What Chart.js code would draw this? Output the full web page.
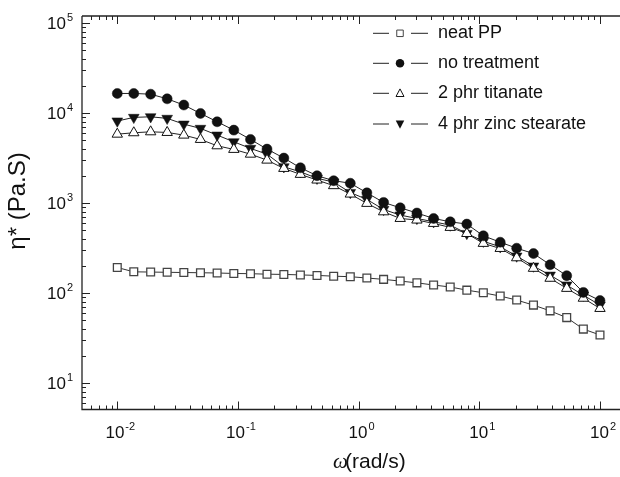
<!DOCTYPE html>
<html>
<head>
<meta charset="utf-8">
<script src="https://cdn.jsdelivr.net/npm/chart.js@4"></script>
<style>
  html, body { margin: 0; padding: 0; background: #fff; }
  #wrap { width: 620px; height: 477px; }
</style>
</head>
<body>
<div id="wrap"><canvas id="viscChart" width="620" height="477"></canvas></div>
<script>
// angular frequency (rad/s)
const omega = [0.01, 0.0137, 0.0189, 0.0259, 0.0356, 0.0489, 0.0672, 0.0924, 0.127, 0.174,
               0.240, 0.329, 0.452, 0.621, 0.853, 1.17, 1.61, 2.21, 3.04, 4.18,
               5.74, 7.88, 10.8, 14.9, 20.4, 28.1, 38.6, 53.0, 72.8, 100];

// complex viscosity (Pa.s)
const neatPP = [191, 171, 170, 169, 168, 167, 166, 164, 163, 161,
                160, 158, 156, 153, 151, 146, 141, 135, 129, 122,
                116, 107, 100, 92, 83, 73, 63, 53, 39.5, 34];
const noTreatment = [16400, 16400, 16100, 14300, 12200, 9840, 7950, 6420, 5060, 3950,
                     3140, 2450, 2000, 1760, 1650, 1290, 1010, 880, 770, 670,
                     615, 580, 430, 365, 313, 273, 205, 155, 101, 82];
const titanate = [5790, 6000, 6150, 6050, 5650, 5060, 4300, 3920, 3470, 2980,
                  2410, 2070, 1790, 1550, 1250, 985, 794, 670, 643, 590,
                  533, 456, 354, 311, 245, 187, 145, 112, 87, 67];
const zincStearate = [8100, 8890, 9030, 8670, 7480, 6710, 5650, 4760, 4020, 3470,
                      2510, 2210, 1870, 1700, 1300, 1090, 843, 730, 670, 615,
                      565, 456, 374, 324, 256, 198, 157, 122, 94, 73];

const seriesLabels = ['neat PP', 'no treatment', '2 phr titanate', '4 phr zinc stearate'];
const xTickValues = [0.01, 0.1, 1, 10, 100];
const xTickExp = ['-2', '-1', '0', '1', '2'];
const yTickValues = [10, 100, 1000, 10000, 100000];
const yTickExp = ['1', '2', '3', '4', '5'];

const SANS = '"Liberation Sans", Arial, sans-serif';

function toPoints(vals) {
    return omega.map((w, i) => ({ x: w, y: vals[i] }));
}

function logSteps(min, max) {
    const out = [];
    for (let d = Math.floor(Math.log10(min)); d <= Math.ceil(Math.log10(max)); d++) {
        for (let k = 1; k <= 9; k++) {
            const v = k * Math.pow(10, d);
            if (v >= min * 0.999 && v <= max) out.push({ v: v, major: k === 1 });
        }
    }
    return out;
}

function drawMarker(ctx, style, x, y, s) {
    ctx.beginPath();
    if (style === 'rect') {
        ctx.rect(x - s / 2, y - s / 2, s, s);
        ctx.fillStyle = '#fff';
        ctx.fill();
        ctx.strokeStyle = '#444';
        ctx.stroke();
    } else if (style === 'circle') {
        ctx.arc(x, y, s / 2, 0, Math.PI * 2);
        ctx.fillStyle = '#111';
        ctx.fill();
    } else if (style === 'triUp') {
        ctx.moveTo(x, y - s * 0.55);
        ctx.lineTo(x + s / 2, y + s * 0.4);
        ctx.lineTo(x - s / 2, y + s * 0.4);
        ctx.closePath();
        ctx.fillStyle = '#fff';
        ctx.fill();
        ctx.strokeStyle = '#111';
        ctx.stroke();
    } else {
        ctx.moveTo(x, y + s * 0.55);
        ctx.lineTo(x + s / 2, y - s * 0.4);
        ctx.lineTo(x - s / 2, y - s * 0.4);
        ctx.closePath();
        ctx.fillStyle = '#111';
        ctx.fill();
    }
}

// frame, inward ticks, power-of-ten labels, titles and legend
const axisFrame = {
    id: 'axisFrame',
    afterDraw(chart) {
        const ctx = chart.ctx;
        const a = chart.chartArea;
        const xs = chart.scales.x, ys = chart.scales.y;
        ctx.save();
        ctx.strokeStyle = '#222';
        ctx.lineWidth = 1.3;
        ctx.beginPath();
        ctx.moveTo(a.left, a.top);
        ctx.lineTo(a.left, a.bottom);
        ctx.lineTo(a.right, a.bottom);
        ctx.moveTo(a.left, a.top);
        ctx.lineTo(a.right, a.top);
        ctx.stroke();

        ctx.lineWidth = 1;
        ctx.beginPath();
        logSteps(xs.min, xs.max).forEach(t => {
            const px = Math.round(xs.getPixelForValue(t.v)) + 0.5;
            const len = t.major ? 8 : 4;
            ctx.moveTo(px, a.bottom); ctx.lineTo(px, a.bottom - len);
            ctx.moveTo(px, a.top); ctx.lineTo(px, a.top + len);
        });
        logSteps(ys.min, ys.max).forEach(t => {
            const py = Math.round(ys.getPixelForValue(t.v)) + 0.5;
            const len = t.major ? 8 : 4;
            ctx.moveTo(a.left, py); ctx.lineTo(a.left + len, py);
        });
        ctx.stroke();

        // tick labels
        ctx.fillStyle = '#111';
        ctx.textAlign = 'left';
        ctx.textBaseline = 'alphabetic';
        const baseFont = '17px ' + SANS, supFont = '11px ' + SANS;
        xTickValues.forEach((v, i) => {
            const px = xs.getPixelForValue(v);
            ctx.font = baseFont;
            const wB = ctx.measureText('10').width;
            ctx.font = supFont;
            const wE = ctx.measureText(xTickExp[i]).width;
            const start = px + 3 - (wB + 1 + wE) / 2;
            ctx.font = baseFont;
            ctx.fillText('10', start, 438);
            ctx.font = supFont;
            ctx.fillText(xTickExp[i], start + wB + 1, 430);
        });
        yTickValues.forEach((v, i) => {
            const py = ys.getPixelForValue(v);
            ctx.font = baseFont;
            const wB = ctx.measureText('10').width;
            ctx.font = supFont;
            const wE = ctx.measureText(yTickExp[i]).width;
            const start = 73 - wE - 1 - wB;
            ctx.font = baseFont;
            ctx.fillText('10', start, py + 6);
            ctx.font = supFont;
            ctx.fillText(yTickExp[i], start + wB + 1, py - 2);
        });

        // axis titles
        ctx.font = 'italic 21px "Liberation Serif", "Times New Roman", serif';
        ctx.fillText('\u03c9', 333, 468);
        ctx.font = '21px ' + SANS;
        ctx.fillText('(rad/s)', 345, 468);

        ctx.save();
        ctx.translate(25, 201);
        ctx.rotate(-Math.PI / 2);
        ctx.textAlign = 'center';
        ctx.font = '24px ' + SANS;
        ctx.fillText('\u03b7* (Pa.S)', 0, 0);
        ctx.restore();

        // legend
        const rows = [33.3, 63.3, 93.3, 124];
        const styles = ['rect', 'circle', 'triUp', 'triDown'];
        const sizes = [6.5, 8.5, 8, 8.5];
        ctx.font = '18px ' + SANS;
        rows.forEach((ry, i) => {
            ctx.strokeStyle = '#222';
            ctx.lineWidth = 1;
            ctx.beginPath();
            ctx.moveTo(373, ry); ctx.lineTo(389, ry);
            ctx.moveTo(411, ry); ctx.lineTo(428, ry);
            ctx.stroke();
            drawMarker(ctx, styles[i], 400, ry, sizes[i]);
            ctx.fillStyle = '#111';
            ctx.fillText(seriesLabels[i], 438, ry + 5);
        });
        ctx.restore();
    }
};

const ctx = document.getElementById('viscChart').getContext('2d');
const viscChart = new Chart(ctx, {
    type: 'line',
    data: {
        datasets: [{
            label: seriesLabels[0],
            data: toPoints(neatPP),
            borderColor: '#333',
            borderWidth: 1,
            pointStyle: 'rect',
            pointRadius: 5.5,
            pointBackgroundColor: '#fff',
            pointBorderColor: '#444',
            pointBorderWidth: 1.3
        }, {
            label: seriesLabels[1],
            data: toPoints(noTreatment),
            borderColor: '#222',
            borderWidth: 1,
            pointStyle: 'circle',
            pointRadius: 5,
            pointBackgroundColor: '#111',
            pointBorderColor: '#111',
            pointBorderWidth: 0.5
        }, {
            label: seriesLabels[2],
            data: toPoints(titanate),
            borderColor: '#222',
            borderWidth: 1,
            pointStyle: 'triangle',
            pointRadius: 6,
            pointBackgroundColor: '#fff',
            pointBorderColor: '#111',
            pointBorderWidth: 1
        }, {
            label: seriesLabels[3],
            data: toPoints(zincStearate),
            borderColor: '#222',
            borderWidth: 1,
            pointStyle: 'triangle',
            pointRotation: 180,
            pointRadius: 6.2,
            pointBackgroundColor: '#111',
            pointBorderColor: '#111',
            pointBorderWidth: 0.5
        }]
    },
    options: {
        responsive: false,
        animation: false,
        devicePixelRatio: 1,
        layout: {
            autoPadding: false,
            padding: { left: 82, top: 16, right: 0, bottom: 67.5 }
        },
        plugins: {
            legend: { display: false },
            tooltip: { enabled: false }
        },
        elements: {
            line: { tension: 0 }
        },
        scales: {
            x: {
                type: 'logarithmic',
                min: 0.0051,
                max: 146.5,
                display: false
            },
            y: {
                type: 'logarithmic',
                min: 5.05,
                max: 119000,
                display: false
            }
        }
    },
    plugins: [axisFrame]
});
</script>
</body>
</html>
